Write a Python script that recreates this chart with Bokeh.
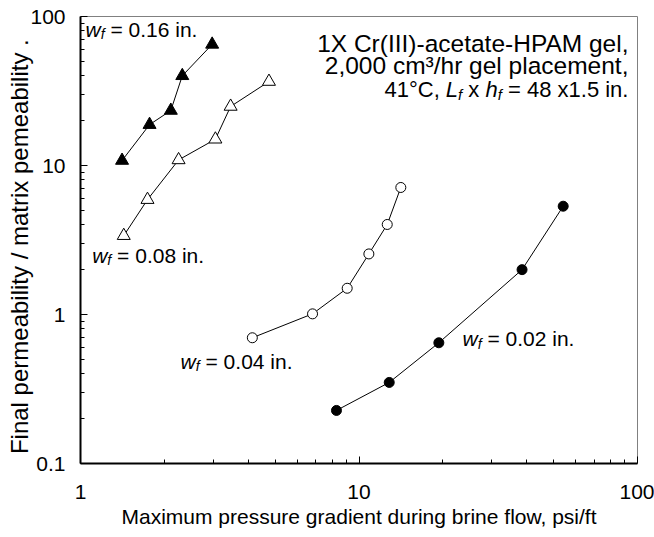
from bokeh.plotting import figure
from bokeh.models import Range1d, FixedTicker, CustomJSTickFormatter, Label
from bokeh.embed import file_html
from bokeh.resources import INLINE

FONT = "Liberation Sans"

# ---- data ----
wf016_x = [1.41, 1.77, 2.11, 2.32, 2.97]
wf016_y = [10.8, 18.8, 23.4, 40.0, 65.0]
wf008_x = [1.43, 1.74, 2.25, 3.05, 3.46, 4.75]
wf008_y = [3.38, 5.9, 10.9, 15.0, 24.9, 36.6]
wf004_x = [4.14, 6.81, 9.07, 10.85, 12.63, 14.13]
wf004_y = [0.698, 1.01, 1.50, 2.55, 4.02, 7.12]
wf002_x = [8.30, 12.84, 19.35, 38.5, 54.1]
wf002_y = [0.227, 0.35, 0.646, 2.00, 5.33]

x_ticks = [1, 10, 100]
y_ticks = [0.1, 1, 10, 100]
x_minor = [2, 3, 4, 5, 6, 7, 8, 9, 20, 30, 40, 50, 60, 70, 80, 90]
y_minor = [0.2, 0.3, 0.4, 0.5, 0.6, 0.7, 0.8, 0.9, 2, 3, 4, 5, 6, 7, 8, 9,
           20, 30, 40, 50, 60, 70, 80, 90]

x_label = "Maximum pressure gradient during brine flow, psi/ft"
y_label = "Final permeability / matrix pemeability\u00a0.\u00a0\u00a0"

p = figure(width=654, height=537, x_axis_type="log", y_axis_type="log",
           x_range=Range1d(1, 100), y_range=Range1d(0.1, 100),
           output_backend="svg", toolbar_location=None,
           min_border_left=80, min_border_right=17,
           min_border_top=16, min_border_bottom=74)
p.grid.visible = False
p.outline_line_color = "#808080"
p.outline_line_width = 1
p.background_fill_color = "white"
p.border_fill_color = "white"

for ax, tk, mn in ((p.xaxis[0], x_ticks, x_minor), (p.yaxis[0], y_ticks, y_minor)):
    ax.ticker = FixedTicker(ticks=tk, minor_ticks=mn)
    ax.formatter = CustomJSTickFormatter(code="return tick.toString();")
    ax.major_tick_in = 7
    ax.major_tick_out = 0
    ax.minor_tick_in = 4
    ax.minor_tick_out = 0
    ax.axis_line_width = 2
    ax.axis_line_color = "black"
    ax.major_tick_line_color = "black"
    ax.minor_tick_line_color = "black"
    ax.major_label_text_font = FONT
    ax.major_label_text_font_size = "21px"
    ax.major_label_text_color = "black"
    ax.axis_label_text_font = FONT
    ax.axis_label_text_font_style = "normal"
    ax.axis_label_text_color = "black"

p.xaxis.axis_label_text_font_size = "21px"
p.yaxis.axis_label_text_font_size = "24px"
p.xaxis.axis_label = x_label
p.yaxis.axis_label = y_label
p.xaxis.major_label_standoff = 21
p.xaxis.axis_label_standoff = 3
p.yaxis.major_label_standoff = 15
p.yaxis.axis_label_standoff = -6

# series
p.line(wf016_x, wf016_y, line_color="black", line_width=1)
p.scatter(wf016_x, wf016_y, marker="triangle", size=13, fill_color="black", line_color="black")
p.line(wf008_x, wf008_y, line_color="black", line_width=1)
p.scatter(wf008_x, wf008_y, marker="triangle", size=13, fill_color="white", line_color="black")
p.line(wf004_x, wf004_y, line_color="black", line_width=1)
p.scatter(wf004_x, wf004_y, marker="circle", size=10, fill_color="white", line_color="black")
p.line(wf002_x, wf002_y, line_color="black", line_width=1)
p.scatter(wf002_x, wf002_y, marker="circle", size=10, fill_color="black", line_color="black")

# ---- rich text helper (Arial / Liberation Sans advance widths) ----
W = {' ': 278, '.': 278, ',': 278, '=': 584, '\u00b0': 400, '/': 278, '-': 333,
     '(': 333, ')': 333, 'x': 500, 'i': 222, 'n': 556, 'w': 722, 'f': 278,
     'L': 556, 'h': 556, 'C': 722}


def width(s, size):
    return sum(W.get(c, 556) for c in s) / 1000.0 * size


def rich(x, y, segs, size, align="left"):
    def sz(st):
        return size * (0.68 if st in ("sub", "sup") else 1.0)
    total = sum(width(t, sz(st)) for t, st in segs)
    off = -total if align == "right" else 0.0
    for t, st in segs:
        s = sz(st)
        core = t.strip(" ")
        lead = len(t) - len(t.lstrip(" "))
        off += width(" " * lead, s)
        yo = -5 if st == "sub" else 0
        p.add_layout(Label(x=x, y=y, x_offset=off, y_offset=yo, text=core,
                           text_font=FONT, text_font_size=f"{s:.1f}px",
                           text_font_style="italic" if st in ("i", "sub") else "normal",
                           text_align="left", text_baseline="alphabetic",
                           text_color="black"))
        off += width(t[lead:], s)


LS = 21
rich(1.042, 81.8, [("w", "i"), ("f", "sub"), (" = 0.16 in.", "n")], LS)
rich(1.101, 2.507, [("w", "i"), ("f", "sub"), (" = 0.08 in.", "n")], LS)
rich(2.287, 0.4837, [("w", "i"), ("f", "sub"), (" = 0.04 in.", "n")], LS)
rich(23.53, 0.690, [("w", "i"), ("f", "sub"), (" = 0.02 in.", "n")], LS)

AS = 24.5
for yy, t in ((65.9, "1X Cr(III)-acetate-HPAM gel,"),
              (46.9, "2,000 cm\u00b3/hr gel placement,")):
    p.add_layout(Label(x=92.8, y=yy, text=t, text_font=FONT,
                       text_font_size=f"{AS}px", text_align="right",
                       text_baseline="alphabetic", text_color="black"))
rich(92.8, 32.4, [("41\u00b0C, ", "n"), ("L", "i"), ("f", "sub"), (" x ", "n"),
                  ("h", "i"), ("f", "sub"), (" = 48 x1.5 in.", "n")], 22, align="right")

open("out.html", "w").write(file_html(p, INLINE))
